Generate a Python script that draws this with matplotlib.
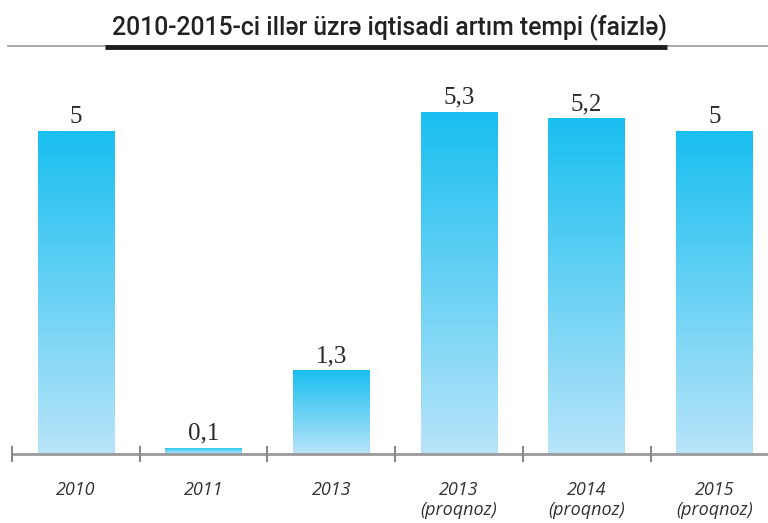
import numpy as np
import matplotlib
matplotlib.use("Agg")
import matplotlib.pyplot as plt
from matplotlib.colors import LinearSegmentedColormap
from matplotlib.lines import Line2D

categories = ["2010", "2011", "2013", "2013\n(proqnoz)", "2014\n(proqnoz)", "2015\n(proqnoz)"]
values = [5.0, 0.1, 1.3, 5.3, 5.2, 5.0]
value_labels = ["5", "0,1", "1,3", "5,3", "5,2", "5"]
title = "2010-2015-ci illər üzrə iqtisadi artım tempi (faizlə)"

W, H = 768, 523
fig = plt.figure(figsize=(W / 100, H / 100), dpi=100)
ax_left, ax_right = 12, 768
ax_bottom, ax_top = 454, 34
ax = fig.add_axes([ax_left / W, (H - ax_bottom) / H, (ax_right - ax_left) / W, (ax_bottom - ax_top) / H])
spacing = 127.7
ax.set_xlim(-0.5, -0.5 + (ax_right - ax_left) / spacing)
ppu = 64.6
ymax = (ax_bottom - ax_top) / ppu
ax.set_ylim(0, ymax)
ax.axis("off")

cmap = LinearSegmentedColormap.from_list("g", ["#b8e4f9", "#19bff0"])
grad = np.linspace(0, 1, 256).reshape(-1, 1)
bw = 0.6
x = np.arange(len(values))
bars = ax.bar(x, values, width=bw, color="none", edgecolor="none")
for b, v, lab in zip(bars, values, value_labels):
    x0 = b.get_x()
    im = ax.imshow(grad, cmap=cmap, origin="lower", aspect="auto",
                   extent=[x0, x0 + bw, 0, v], zorder=2)
    im.set_clip_path(b)
    ax.text(b.get_x() + bw / 2, v + 3 / ppu, lab, ha="center", va="bottom",
            fontsize=18, family="Liberation Serif", color="#2a2a2a")

# axis line and ticks
ax.plot([-0.5, 6], [0, 0], color="#9a9a9a", lw=2, clip_on=False, zorder=3, solid_capstyle="butt")
for t in np.arange(-0.5, 5.5, 1.0):
    ax.plot([t, t], [-7 / ppu, 7 / ppu], color="#8a8a8a", lw=1.5, clip_on=False, zorder=3)

for xi, c in zip(x, categories):
    ax.text(xi, -27 / ppu, c, ha="center", va="top", fontsize=13, style="italic",
            family=["Open Sans", "DejaVu Sans"], color="#333333", linespacing=1.15)

# title
fig.text(390 / W, 1 - 28 / H, title, ha="center", va="center", fontsize=17.8,
         family=["Roboto", "DejaVu Sans"], weight="medium", color="#222222")
fig.add_artist(Line2D([8 / W, 1], [1 - 45.5 / H] * 2, color="#999999", lw=1.2))
fig.add_artist(Line2D([105 / W, 667 / W], [1 - 47 / H] * 2, color="#1e1e1e", lw=3.5, solid_capstyle="butt"))

fig.savefig("out.png", dpi=100, facecolor="white")
